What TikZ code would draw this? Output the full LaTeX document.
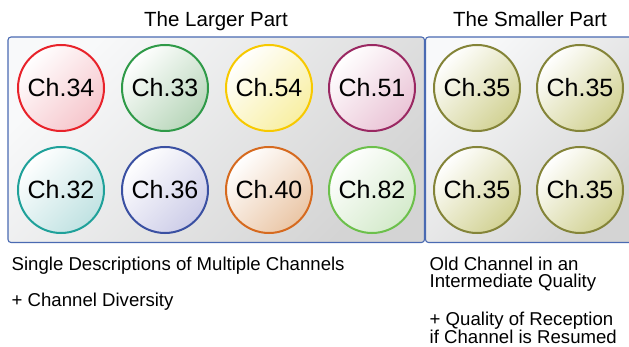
\documentclass[tikz,border=0pt]{standalone}
\usepackage{fontspec}
\setmainfont{Liberation Sans}
\definecolor{boxline}{HTML}{4A6AB2}
\definecolor{boxlight}{HTML}{F8F9FA}
\definecolor{boxdark}{HTML}{D4D4D4}
\definecolor{cRed}{HTML}{E8232B}\definecolor{fRed}{HTML}{F6C6CC}
\definecolor{cGreen}{HTML}{2F9A48}\definecolor{fGreen}{HTML}{B8D6BA}
\definecolor{cYellow}{HTML}{F7C900}\definecolor{fYellow}{HTML}{F8EFA2}
\definecolor{cPurple}{HTML}{9A2862}\definecolor{fPurple}{HTML}{EAC4D6}
\definecolor{cTeal}{HTML}{1FA19A}\definecolor{fTeal}{HTML}{C0E2E2}
\definecolor{cBlue}{HTML}{3A50A2}\definecolor{fBlue}{HTML}{CDCDE8}
\definecolor{cOrange}{HTML}{D66A1F}\definecolor{fOrange}{HTML}{EAC6A6}
\definecolor{cLGreen}{HTML}{6CC04B}\definecolor{fLGreen}{HTML}{D4EACB}
\definecolor{cOlive}{HTML}{848438}\definecolor{fOlive}{HTML}{D2D294}
\tikzset{
  partbox/.style={draw=boxline, line width=1.1pt, rounded corners=3pt,
    top color=boxlight, bottom color=boxdark, shading angle=45},
  chan/.style 2 args={circle, draw=#1, line width=2pt, minimum size=86pt, inner sep=0pt,
    top color=white, bottom color=#2, shading angle=45,
    font=\fontsize{25}{30}\selectfont},
  title/.style={anchor=base, font=\fontsize{20.5}{24}\selectfont},
  desc/.style={anchor=base west, inner sep=0pt, font=\fontsize{18.6}{22}\selectfont}
}
\begin{document}
\begin{tikzpicture}[x=1pt,y=-1pt]
\useasboundingbox (0,0) rectangle (629,347);
% boxes
\path[partbox] (8,37) rectangle (424.5,242.5);
\path[partbox] (425.5,37) rectangle (640,242.5);
% titles
\node[title] (tL) at (216,27) {The Larger Part};
\node[title] (tS) at (530,27) {The Smaller Part};
% channels
\node[chan={cRed}{fRed}] (c34) at (61,88) {Ch.34};
\node[chan={cGreen}{fGreen}] (c33) at (165,88) {Ch.33};
\node[chan={cYellow}{fYellow}] (c54) at (269,88) {Ch.54};
\node[chan={cPurple}{fPurple}] (c51) at (372,88) {Ch.51};
\node[chan={cTeal}{fTeal}] (c32) at (61,190) {Ch.32};
\node[chan={cBlue}{fBlue}] (c36) at (165,190) {Ch.36};
\node[chan={cOrange}{fOrange}] (c40) at (269,190) {Ch.40};
\node[chan={cLGreen}{fLGreen}] (c82) at (372,190) {Ch.82};
\node[chan={cOlive}{fOlive}] (s1) at (477,88) {Ch.35};
\node[chan={cOlive}{fOlive}] (s2) at (580,88) {Ch.35};
\node[chan={cOlive}{fOlive}] (s3) at (477,190) {Ch.35};
\node[chan={cOlive}{fOlive}] (s4) at (580,190) {Ch.35};
% descriptions
\node[desc] (d1) at (11.5,271) {Single Descriptions of Multiple Channels};
\node[desc] (d2) at (11.5,306) {+ Channel Diversity};
\node[desc] (d3) at (429.5,271) {Old Channel in an};
\node[desc] (d4) at (429.5,288) {Intermediate Quality};
\node[desc] (d5) at (429.5,325.5) {+ Quality of Reception};
\node[desc] (d6) at (429.5,343) {if Channel is Resumed};
\end{tikzpicture}
\end{document}
